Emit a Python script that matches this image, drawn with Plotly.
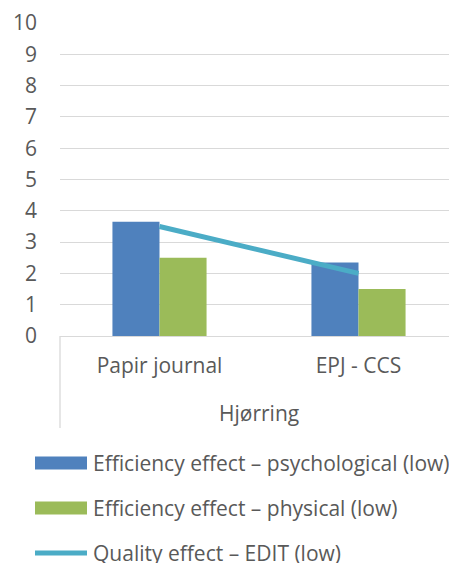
import plotly.graph_objects as go

categories = ["Papir journal", "EPJ - CCS"]
group_label = "Hjørring"
psych = [3.65, 2.35]
physical = [2.5, 1.5]
quality = [3.5, 2.0]
names = ["Efficiency effect – psychological (low)",
         "Efficiency effect – physical (low)",
         "Quality effect – EDIT (low)"]
colors = ["#4F81BD", "#9BBB59", "#4BACC6"]
y_ticks = list(range(0, 11))

FONT = "Open Sans"
TXT = "#595959"
FS = 21

# page body has an 8px margin, so figure coords = window coords - 8
OFF = 8
W, H = 450, 555
ml, mt = 60 - OFF, 23 - OFF
plot_bottom = 336 - OFF
mb = H - plot_bottom
plot_h = plot_bottom - mt
plot_w = W - ml

def py(win_y):
    return 1 - (win_y - OFF - mt) / plot_h

def px(win_x):
    return (win_x - OFF - ml) / plot_w

fig = go.Figure()
fig.add_trace(go.Bar(x=categories, y=psych, name=names[0], marker=dict(color=colors[0], line=dict(width=0))))
fig.add_trace(go.Bar(x=categories, y=physical, name=names[1], marker=dict(color=colors[1], line=dict(width=0))))
fig.add_trace(go.Scatter(x=categories, y=quality, name=names[2], mode="lines",
                         line=dict(color=colors[2], width=5)))

fig.update_layout(
    width=W, height=H,
    margin=dict(l=ml, r=0, t=mt, b=mb),
    paper_bgcolor="white", plot_bgcolor="white",
    barmode="group", bargap=0.527, bargroupgap=0,
    showlegend=False,
    font=dict(family=FONT, color=TXT, size=FS),
    xaxis=dict(type="category", showgrid=False, ticks="", showline=False,
               ticklabelstandoff=15, tickfont=dict(size=FS, color=TXT), range=[-0.5, 1.5]),
    yaxis=dict(range=[0, 10], tickvals=y_ticks, showgrid=True, gridcolor="#D9D9D9", gridwidth=1.3,
               zeroline=True, zerolinecolor="#D9D9D9", zerolinewidth=1.3, showline=False, ticks="",
               ticklabelstandoff=22, tickfont=dict(size=FS, color=TXT)),
)

# category group label and separator line
fig.add_annotation(text=group_label, xref="paper", yref="paper", x=0.5, y=py(413),
                   showarrow=False, yanchor="middle", font=dict(size=FS, color=TXT))
fig.add_shape(type="line", xref="paper", yref="paper", x0=0, x1=0, y0=0, y1=py(428),
              line=dict(color="#D9D9D9", width=1.3))

# custom legend
leg_y = [463, 508, 553]
for i, nm in enumerate(names):
    yp = py(leg_y[i])
    x0, x1 = px(35), px(87)
    if i < 2:
        h = 13 / plot_h
        fig.add_shape(type="rect", xref="paper", yref="paper", x0=x0, x1=x1, y0=yp - h / 2, y1=yp + h / 2,
                      fillcolor=colors[i], line=dict(width=0))
    else:
        fig.add_shape(type="line", xref="paper", yref="paper", x0=x0, x1=x1, y0=yp, y1=yp,
                      line=dict(color=colors[i], width=5))
    fig.add_annotation(text=nm, xref="paper", yref="paper", x=px(91), y=yp,
                       xanchor="left", yanchor="middle", showarrow=False,
                       font=dict(size=FS, color=TXT))

fig.write_html("out.html")
